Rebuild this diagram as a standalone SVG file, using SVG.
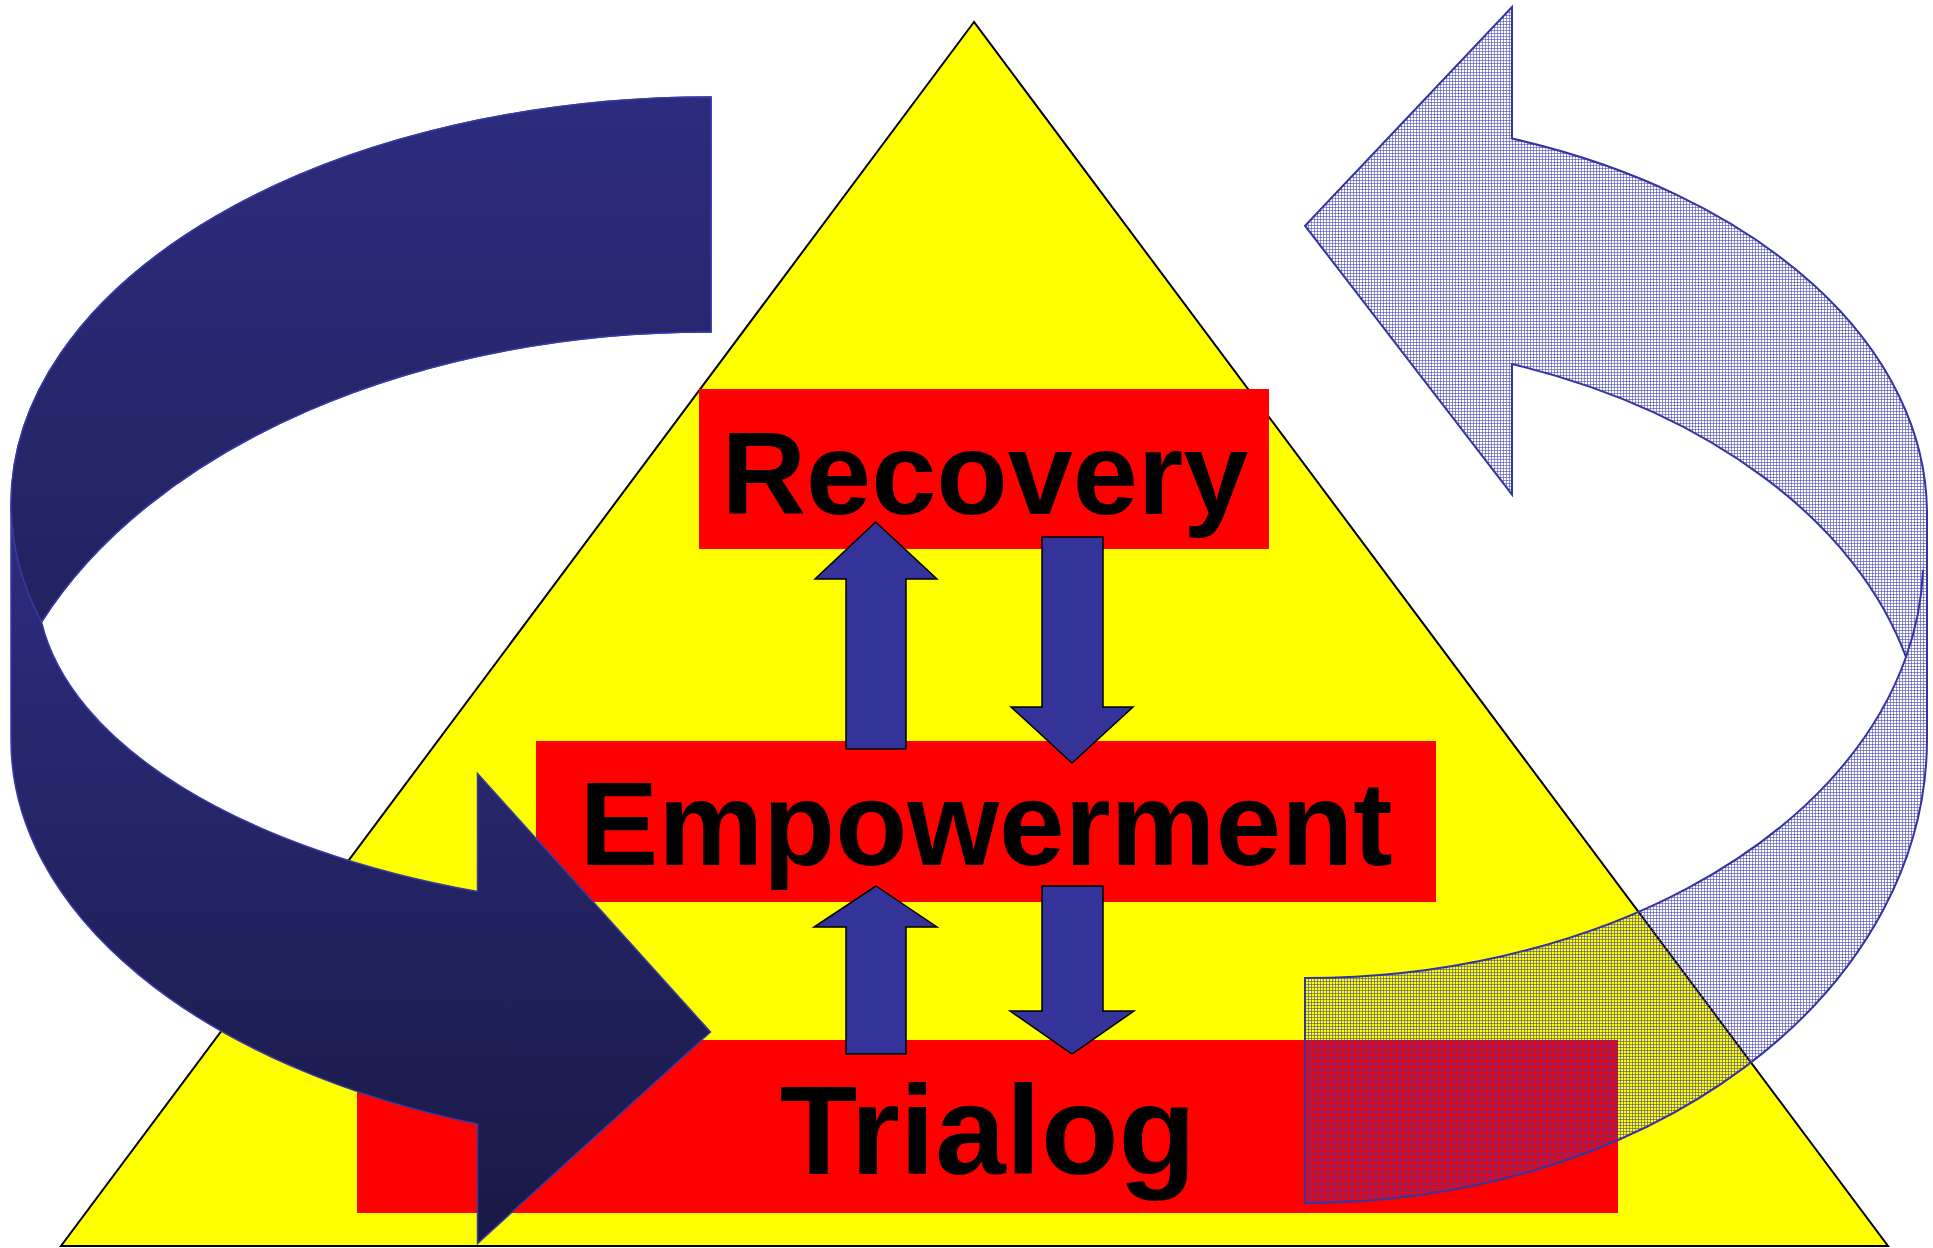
<svg xmlns="http://www.w3.org/2000/svg" width="1933" height="1248" viewBox="0 0 1933 1248">
  <defs>
    <style>
      .box { fill: #ff0000; }
      .label { font-family: "Liberation Sans", Arial, sans-serif; font-weight: bold; fill: #000; text-anchor: middle; }
      .updown { fill: #333399; stroke: #000; stroke-width: 1.5; stroke-linejoin: miter; }
      .ribbon { stroke: #3a3aa6; stroke-width: 1.5; stroke-linejoin: miter; }
      .hatched { fill: url(#hatch); stroke: #3535a0; stroke-width: 2; stroke-linejoin: miter; }
    </style>
    <!-- fine blue grid used for the light, see-through cycle arrow -->
    <pattern id="hatch" patternUnits="userSpaceOnUse" width="3" height="3">
      <rect x="0" y="0" width="3" height="1" fill="#3a3ab0" fill-opacity="0.55"/>
      <rect x="0" y="0" width="1" height="3" fill="#3a3ab0" fill-opacity="0.55"/>
    </pattern>
    <linearGradient id="ribbonTop" gradientUnits="userSpaceOnUse" x1="0" y1="97" x2="0" y2="622">
      <stop offset="0" stop-color="#2c2c7e"/>
      <stop offset="1" stop-color="#22225f"/>
    </linearGradient>
    <linearGradient id="ribbonLow" gradientUnits="userSpaceOnUse" x1="0" y1="504" x2="0" y2="1244">
      <stop offset="0" stop-color="#2d2d80"/>
      <stop offset="1" stop-color="#191946"/>
    </linearGradient>
  </defs>

  <rect width="1933" height="1248" fill="#fff"/>

  <g id="nodes">
    <g id="pyramid">
      <polygon points="974,22 61,1246 1888,1246" fill="#ffff00" stroke="#000" stroke-width="2" stroke-linejoin="miter"/>
    </g>
    <g id="recovery">
      <rect class="box" x="699" y="389" width="570" height="160"/>
      <text class="label" x="985" y="514" font-size="117">Recovery</text>
    </g>
    <g id="empowerment">
      <rect class="box" x="536" y="741" width="900" height="161"/>
      <text class="label" x="986" y="865" font-size="118">Empowerment</text>
    </g>
    <g id="trialog">
      <rect class="box" x="357" y="1040" width="1261" height="173"/>
      <text class="label" x="988" y="1174" font-size="127">Trialog</text>
    </g>
  </g>

  <g id="connectors">
    <!-- Empowerment -> Recovery / Recovery -> Empowerment -->
    <polygon class="updown" points="875.7,522 937,579 906,579 906,749 846,749 846,579 815,579"/>
    <polygon class="updown" points="1042,537 1103,537 1103,707 1133,707 1072,763 1011,707 1042,707"/>
    <!-- Trialog -> Empowerment / Empowerment -> Trialog -->
    <polygon class="updown" points="876,886 937,927 906,927 906,1054 846,1054 846,927 814,927"/>
    <polygon class="updown" points="1042,886 1103,886 1103,1011 1134,1011 1072,1054 1010,1011 1042,1011"/>

    <!-- dark curved ribbon arrow on the left, pointing right -->
    <g id="cycle-left">
      <path class="ribbon" fill="url(#ribbonLow)" d="M711,97 A700,407 0 0 0 11,504 L11,740 A700,407 0 0 0 477.5,1124 L477.5,1243.5 L710.5,1032 L477.5,773.5 L477.5,891.5 A672,328 0 0 1 41.5,622 A720,470 0 0 1 711,332 Z"/>
      <path class="ribbon" fill="url(#ribbonTop)" d="M711,97 A700,407 0 0 0 11,504 A700,407 0 0 0 41.5,622 A720,470 0 0 1 711,332 Z"/>
    </g>

    <!-- light see-through curved ribbon arrow on the right, pointing left -->
    <g id="cycle-right">
      <path class="hatched" d="M1305,978 A618,418 0 0 0 1906,657 A620,418 0 0 0 1512,364 L1512,494.6 L1305,225.7 L1512,7 L1512,138.6 A622,398 0 0 1 1927,514 L1927,739 A622,464 0 0 1 1305,1203 Z"/>
      <path d="M1906,657 A618,418 0 0 0 1923,570" fill="none" stroke="#3535a0" stroke-width="2"/>
    </g>
  </g>
</svg>
